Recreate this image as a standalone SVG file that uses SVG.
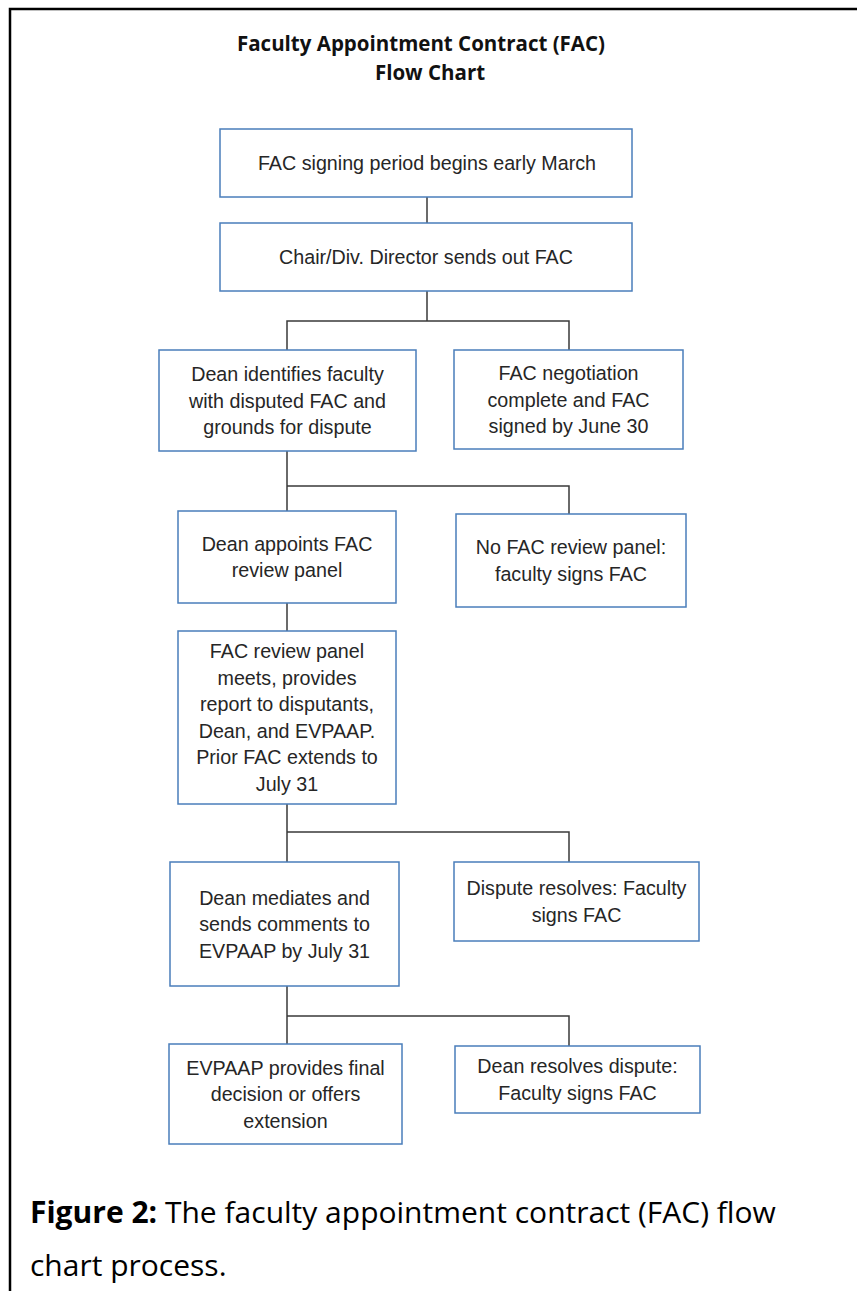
<svg xmlns="http://www.w3.org/2000/svg" width="857" height="1291" viewBox="0 0 857 1291">
<style>
.box{fill:#ffffff;stroke:#4a7ebb;stroke-width:1.5}
.t{font-family:"Liberation Sans",Arial,sans-serif;font-size:19.7px;fill:#262626;text-anchor:middle}
.title{font-family:"Open Sans","Liberation Sans",sans-serif;font-size:20.5px;font-weight:bold;fill:#111;text-anchor:middle}
.cap{font-family:"Open Sans","Noto Sans",sans-serif;font-size:30px;fill:#000}
.conn{fill:none;stroke:#3a3a3a;stroke-width:1.5}
</style>
<rect x="0" y="0" width="857" height="1291" fill="#ffffff"/>
<path d="M10,1291 V9 H857" fill="none" stroke="#000" stroke-width="2.5"/>
<g id="title">
<text class="title" x="421" y="51">Faculty Appointment Contract (FAC)</text>
<text class="title" x="430" y="80">Flow Chart</text>
</g>
<g id="connectors">
<path class="conn" d="M427,197 V223"/>
<path class="conn" d="M427,291 V321 M287,350 V321 H569 V350"/>
<path class="conn" d="M287,451 V511 M287,486 H569 V514"/>
<path class="conn" d="M287,603 V631"/>
<path class="conn" d="M287,804 V862 M287,832 H569 V862"/>
<path class="conn" d="M287,986 V1044 M287,1016 H569 V1046"/>
</g>
<g id="n1"><rect class="box" x="220" y="129" width="412" height="68"/>
<text class="t" x="427" y="170">FAC signing period begins early March</text></g>
<g id="n2"><rect class="box" x="220" y="223" width="412" height="68"/>
<text class="t" x="426" y="264">Chair/Div. Director sends out FAC</text></g>
<g id="n3"><rect class="box" x="159" y="350" width="257" height="101"/>
<text class="t" x="287.5" y="381">Dean identifies faculty</text>
<text class="t" x="287.5" y="407.5">with disputed FAC and</text>
<text class="t" x="287.5" y="434">grounds for dispute</text></g>
<g id="n4"><rect class="box" x="454" y="350" width="229" height="99"/>
<text class="t" x="568.5" y="380">FAC negotiation</text>
<text class="t" x="568.5" y="406.5">complete and FAC</text>
<text class="t" x="568.5" y="433">signed by June 30</text></g>
<g id="n5"><rect class="box" x="178" y="511" width="218" height="92"/>
<text class="t" x="287" y="551">Dean appoints FAC</text>
<text class="t" x="287" y="577">review panel</text></g>
<g id="n6"><rect class="box" x="456" y="514" width="230" height="93"/>
<text class="t" x="571" y="554">No FAC review panel:</text>
<text class="t" x="571" y="581">faculty signs FAC</text></g>
<g id="n7"><rect class="box" x="178" y="631" width="218" height="173"/>
<text class="t" x="287" y="658">FAC review panel</text>
<text class="t" x="287" y="685">meets, provides</text>
<text class="t" x="287" y="711">report to disputants,</text>
<text class="t" x="287" y="738">Dean, and EVPAAP.</text>
<text class="t" x="287" y="764">Prior FAC extends to</text>
<text class="t" x="287" y="791">July 31</text></g>
<g id="n8"><rect class="box" x="170" y="862" width="229" height="124"/>
<text class="t" x="284.5" y="905">Dean mediates and</text>
<text class="t" x="284.5" y="931">sends comments to</text>
<text class="t" x="284.5" y="958">EVPAAP by July 31</text></g>
<g id="n9"><rect class="box" x="454" y="862" width="245" height="79"/>
<text class="t" x="576.5" y="895">Dispute resolves: Faculty</text>
<text class="t" x="576.5" y="922">signs FAC</text></g>
<g id="n10"><rect class="box" x="169" y="1044" width="233" height="100"/>
<text class="t" x="285.5" y="1075">EVPAAP provides final</text>
<text class="t" x="285.5" y="1101">decision or offers</text>
<text class="t" x="285.5" y="1128">extension</text></g>
<g id="n11"><rect class="box" x="455" y="1046" width="245" height="67"/>
<text class="t" x="577.5" y="1073">Dean resolves dispute:</text>
<text class="t" x="577.5" y="1100">Faculty signs FAC</text></g>
<g id="caption">
<text class="cap" x="30" y="1223"><tspan font-weight="bold">Figure 2:</tspan> The faculty appointment contract (FAC) flow</text>
<text class="cap" x="30" y="1276">chart process.</text>
</g>
</svg>
